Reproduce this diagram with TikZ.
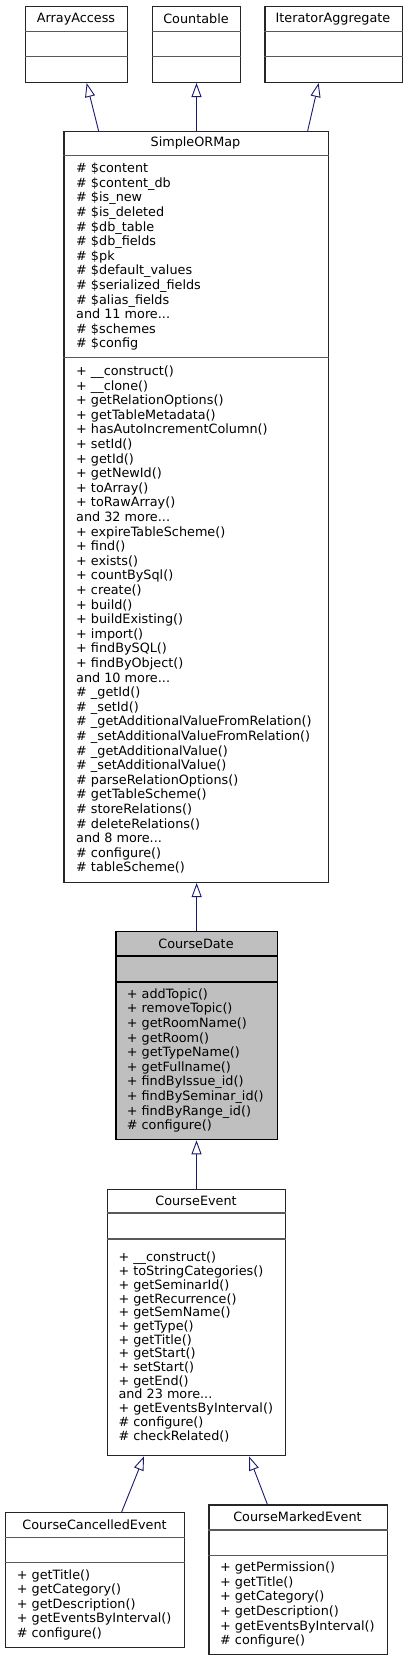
\documentclass[tikz,border=0pt]{standalone}
\usepackage{fontspec}
\setmainfont{DejaVu Sans}
\usetikzlibrary{arrows.meta}
\definecolor{edgeblue}{HTML}{191970}

\begin{document}
\begin{tikzpicture}[x=1pt,y=-1pt,
  classbox/.style={draw=black!85,line width=1.3pt,fill=white,anchor=north west,inner sep=0pt},
  sepline/.style={draw=black!65,line width=1.3pt},
  classname/.style={font=\fontsize{12.8}{14.6}\selectfont,inner sep=0pt},
  members/.style={font=\fontsize{12.8}{14.6}\selectfont,align=left,anchor=west,inner sep=0pt},
  inherit/.style={draw=edgeblue,line width=0.9pt,-{Triangle[open,length=14pt,width=10pt,fill=white]}}]
\useasboundingbox (0,0) rectangle (407,1660);
% interfaces on top
\node[classbox,minimum width=102pt,minimum height=76pt] (aa) at (25,5.7) {};
\draw[sepline] ([yshift=-26pt]aa.north west) -- ([yshift=-26pt]aa.north east);
\draw[sepline] ([yshift=-51pt]aa.north west) -- ([yshift=-51pt]aa.north east);
\node[classname] (aaname) at (76,18.7) {ArrayAccess};
\node[classbox,minimum width=88.3pt,minimum height=76pt] (cnt) at (151.7,5.7) {};
\draw[sepline] ([yshift=-26pt]cnt.north west) -- ([yshift=-26pt]cnt.north east);
\draw[sepline] ([yshift=-51pt]cnt.north west) -- ([yshift=-51pt]cnt.north east);
\node[classname] (cntname) at (196,18.7) {Countable};
\node[classbox,minimum width=137.4pt,minimum height=76pt] (ia) at (264.3,5.7) {};
\draw[sepline] ([yshift=-26pt]ia.north west) -- ([yshift=-26pt]ia.north east);
\draw[sepline] ([yshift=-51pt]ia.north west) -- ([yshift=-51pt]ia.north east);
\node[classname] (ianame) at (333,18.7) {IteratorAggregate};
% SimpleORMap
\node[classbox,minimum width=264.4pt,minimum height=750.7pt] (sorm) at (63.3,131) {};
\draw[sepline] ([yshift=-24.7pt]sorm.north west) -- ([yshift=-24.7pt]sorm.north east);
\draw[sepline] ([yshift=-226.7pt]sorm.north west) -- ([yshift=-226.7pt]sorm.north east);
\node[classname] (sormname) at (195.5,143.3) {SimpleORMap};
\node[members] (sormattr) at (76,256.7) {\# \$content\\\# \$content\_db\\\# \$is\_new\\\# \$is\_deleted\\\# \$db\_table\\\# \$db\_fields\\\# \$pk\\\# \$default\_values\\\# \$serialized\_fields\\\# \$alias\_fields\\and 11 more...\\\# \$schemes\\\# \$config};
\node[members] (sormops) at (76,619.7) {+ \_\_construct()\\+ \_\_clone()\\+ getRelationOptions()\\+ getTableMetadata()\\+ hasAutoIncrementColumn()\\+ setId()\\+ getId()\\+ getNewId()\\+ toArray()\\+ toRawArray()\\and 32 more...\\+ expireTableScheme()\\+ find()\\+ exists()\\+ countBySql()\\+ create()\\+ build()\\+ buildExisting()\\+ import()\\+ findBySQL()\\+ findByObject()\\and 10 more...\\\# \_getId()\\\# \_setId()\\\# \_getAdditionalValueFromRelation()\\\# \_setAdditionalValueFromRelation()\\\# \_getAdditionalValue()\\\# \_setAdditionalValue()\\\# parseRelationOptions()\\\# getTableScheme()\\\# storeRelations()\\\# deleteRelations()\\and 8 more...\\\# configure()\\\# tableScheme()};
% CourseDate (highlighted)
\node[classbox,draw=black,fill=black!25,minimum width=161.4pt,minimum height=208pt] (cdate) at (115.3,931) {};
\draw[sepline,draw=black] ([yshift=-25pt]cdate.north west) -- ([yshift=-25pt]cdate.north east);
\draw[sepline,draw=black] ([yshift=-51pt]cdate.north west) -- ([yshift=-51pt]cdate.north east);
\node[classname] (cdatename) at (196,943.5) {CourseDate};
\node[members] (cdateops) at (126.7,1060.5) {+ addTopic()\\+ removeTopic()\\+ getRoomName()\\+ getRoom()\\+ getTypeName()\\+ getFullname()\\+ findByIssue\_id()\\+ findBySeminar\_id()\\+ findByRange\_id()\\\# configure()};
% CourseEvent
\node[classbox,minimum width=178.3pt,minimum height=266.3pt] (cevent) at (106.7,1188.7) {};
\draw[sepline] ([yshift=-24.3pt]cevent.north west) -- ([yshift=-24.3pt]cevent.north east);
\draw[sepline] ([yshift=-50.3pt]cevent.north west) -- ([yshift=-50.3pt]cevent.north east);
\node[classname] (ceventname) at (196,1201) {CourseEvent};
\node[members,font=\fontsize{12.8}{13.7}\selectfont] (ceventops) at (118.3,1347) {+ \_\_construct()\\+ toStringCategories()\\+ getSeminarId()\\+ getRecurrence()\\+ getSemName()\\+ getType()\\+ getTitle()\\+ getStart()\\+ setStart()\\+ getEnd()\\and 23 more...\\+ getEventsByInterval()\\\# configure()\\\# checkRelated()};
% subclasses at the bottom
\node[classbox,minimum width=179pt,minimum height=134.7pt] (ccancel) at (5,1512) {};
\draw[sepline] ([yshift=-25.3pt]ccancel.north west) -- ([yshift=-25.3pt]ccancel.north east);
\draw[sepline] ([yshift=-50.7pt]ccancel.north west) -- ([yshift=-50.7pt]ccancel.north east);
\node[classname] (ccancelname) at (94.5,1524.7) {CourseCancelledEvent};
\node[members] (ccancelops) at (16.7,1604.7) {+ getTitle()\\+ getCategory()\\+ getDescription()\\+ getEventsByInterval()\\\# configure()};
\node[classbox,minimum width=178.4pt,minimum height=149.7pt] (cmarked) at (208.3,1504.3) {};
\draw[sepline] ([yshift=-25.7pt]cmarked.north west) -- ([yshift=-25.7pt]cmarked.north east);
\draw[sepline] ([yshift=-51pt]cmarked.north west) -- ([yshift=-51pt]cmarked.north east);
\node[classname] (cmarkedname) at (297.5,1517) {CourseMarkedEvent};
\node[members] (cmarkedops) at (220,1604.7) {+ getPermission()\\+ getTitle()\\+ getCategory()\\+ getDescription()\\+ getEventsByInterval()\\\# configure()};
% inheritance edges
\draw[inherit] ([xshift=-97.5pt]sorm.north) -- ([xshift=10pt]aa.south);
\draw[inherit] (sorm.north -| cnt.south) -- (cnt.south);
\draw[inherit] ([xshift=111.5pt]sorm.north) -- ([xshift=-15pt]ia.south);
\draw[inherit] (cdate.north) -- (cdate.north |- sorm.south);
\draw[inherit] (cevent.north) -- (cevent.north |- cdate.south);
\draw[inherit] ([xshift=26.5pt]ccancel.north) -- ([xshift=-52.5pt]cevent.south);
\draw[inherit] ([xshift=-30.8pt]cmarked.north) -- ([xshift=52.5pt]cevent.south);
\end{tikzpicture}
\end{document}
